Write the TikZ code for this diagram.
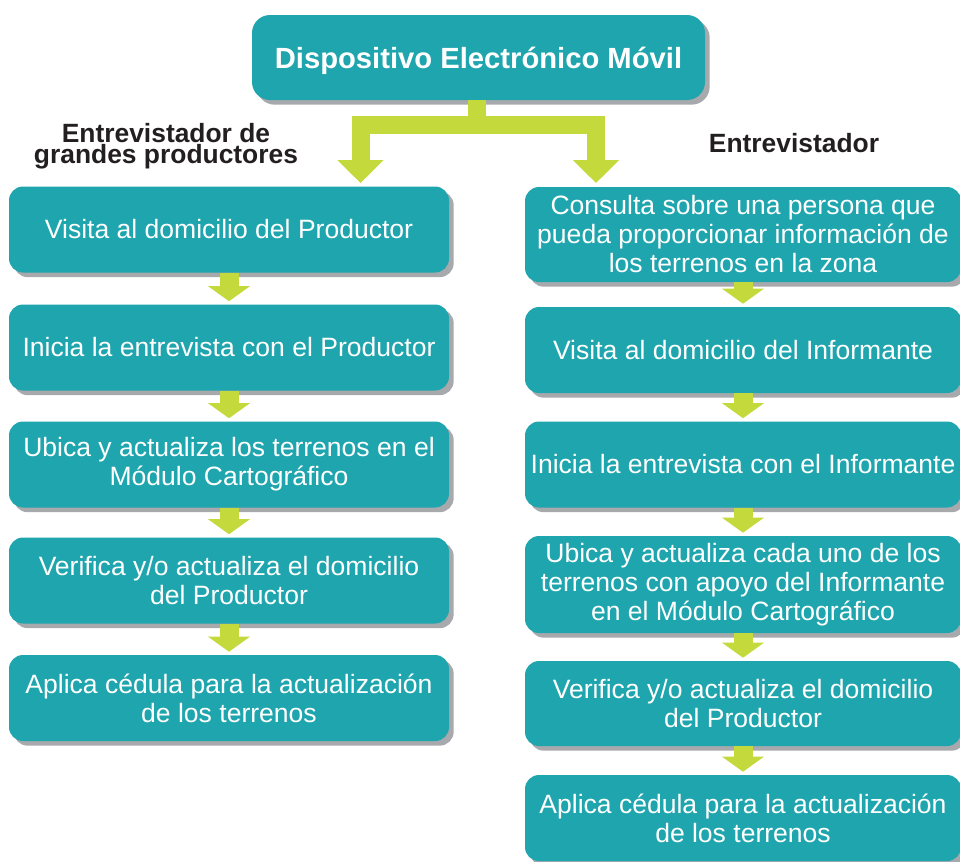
\documentclass[tikz,border=0pt]{standalone}
\usepackage{fontspec}
\setmainfont{Liberation Sans}
\usetikzlibrary{shadows,arrows.meta}
\definecolor{teal1}{HTML}{1FA5AE}
\definecolor{lime1}{HTML}{C4D93B}
\definecolor{shad}{HTML}{A7A9AC}
\definecolor{ink}{HTML}{231F20}
\begin{document}
\begin{tikzpicture}[x=0.75pt,y=-0.75pt,
  box/.style={rectangle, rounded corners=10.5pt, fill=teal1, text=white, align=center,
    inner sep=0pt, font=\fontsize{19.9}{21.75}\selectfont,
    drop shadow={shadow xshift=3.5pt, shadow yshift=-3.5pt, fill=shad, opacity=1}},
  lbox/.style={box, minimum width=330pt, minimum height=64.5pt},
  rbox/.style={box, minimum width=327pt},
  lbl/.style={text=ink, align=center, inner sep=0pt, font=\bfseries\fontsize{19.8}{16.1}\selectfont},
  smallarr/.style={draw=lime1, line width=14.25pt, shorten >=2.25pt,
    -{Triangle[width=30.75pt,length=11.25pt]}},
  bigarr/.style={draw=lime1, line width=13.5pt, line join=miter,
    -{Triangle[width=33.75pt,length=17.25pt]}}]
\useasboundingbox (0,0) rectangle (960,861);
\fill[white] (0,0) rectangle (960,861);
\clip (0,0) rectangle (960,861);

% top box
\node[box, rounded corners=13.5pt, minimum width=339.75pt, minimum height=63.75pt, text depth=0pt,
  font=\bfseries\fontsize{21.9}{24}\selectfont] (top) at (478.5,57.5) {Dispositivo Electrónico Móvil};

% labels
\node[lbl] (lblL) at (166,146) {Entrevistador de\\grandes productores};
\node[lbl, anchor=base] (lblR) at (794,152) {Entrevistador};

% left column
\node[lbox] (L1) at (229,229.5) {Visita al domicilio del Productor};
\node[lbox] (L2) at (229,347.5) {Inicia la entrevista con el Productor};
\node[lbox] (L3) at (229,464.5) {Ubica y actualiza los terrenos en el\\Módulo Cartográfico};
\node[lbox] (L4) at (229,580.5) {Verifica y/o actualiza el domicilio\\del Productor};
\node[lbox] (L5) at (229,698) {Aplica cédula para la actualización\\de los terrenos};

% right column
\node[rbox, minimum height=71.25pt] (R1) at (743,234.5) {Consulta sobre una persona que\\pueda proporcionar información de\\los terrenos en la zona};
\node[rbox, minimum height=64.5pt] (R2) at (743,350) {Visita al domicilio del Informante};
\node[rbox, minimum height=64.5pt] (R3) at (743,464.5) {Inicia la entrevista con el Informante};
\node[rbox, minimum height=72.75pt] (R4) at (743,584.5) {Ubica y actualiza cada uno de los\\terrenos con apoyo del Informante\\en el Módulo Cartográfico};
\node[rbox, minimum height=63.75pt] (R5) at (743,703.5) {Verifica y/o actualiza el domicilio\\del Productor};
\node[rbox, minimum height=64.5pt] (R6) at (743,818) {Aplica cédula para la actualización\\de los terrenos};

% big split connector
\coordinate (tipL) at (360.5,183);
\coordinate (tipR) at (596,183);
\coordinate (junc) at (477,124.5);
\draw[bigarr] (top.south -| junc) -- (junc) -| (tipL);
\draw[bigarr] (top.south -| junc) -- (junc) -| (tipR);

% small arrows
\draw[smallarr] (L1.south) -- (L2.north);
\draw[smallarr] (L2.south) -- (L3.north);
\draw[smallarr] (L3.south) -- (L4.north);
\draw[smallarr] (L4.south) -- (L5.north);
\draw[smallarr] (R1.south) -- (R2.north);
\draw[smallarr] (R2.south) -- (R3.north);
\draw[smallarr] (R3.south) -- (R4.north);
\draw[smallarr] (R4.south) -- (R5.north);
\draw[smallarr] (R5.south) -- (R6.north);
\end{tikzpicture}
\end{document}
